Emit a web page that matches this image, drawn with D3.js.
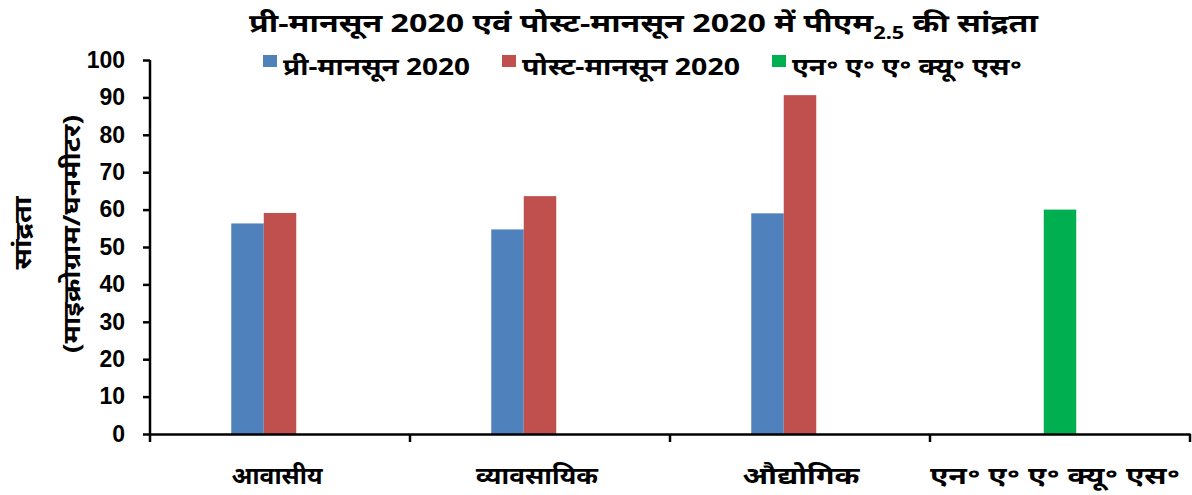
<!DOCTYPE html>
<html><head><meta charset="utf-8">
<script src="https://cdn.jsdelivr.net/npm/d3@7"></script>
<style>
body{margin:0;background:#fff;}
text{font-family:"Liberation Sans",Arial,"Noto Sans",sans-serif;font-weight:bold;fill:#000;}
</style></head>
<body><svg id="c" width="1192" height="495"></svg>
<script>
const categories = ["आवासीय", "व्यावसायिक", "औद्योगिक", "एन॰ ए॰ ए॰ क्यू॰ एस॰"];
const seriesNames = ["प्री-मानसून  2020", "पोस्ट-मानसून  2020", "एन॰ ए॰ ए॰ क्यू॰ एस॰"];
const seriesColors = ["#4f81bd", "#c0504d", "#00b050"];
const preMonsoon = [56.3, 54.7, 59.0, null];
const postMonsoon = [59.1, 63.6, 90.6, null];
const naaqs = [null, null, null, 60];
const yTicks = [0,10,20,30,40,50,60,70,80,90,100];

const svg = d3.select("#c");
const m = {l:150, r:1190, t:60, b:434};
const x = d3.scaleBand().domain(categories).range([m.l, m.r]).paddingInner(0).paddingOuter(0);
const y = d3.scaleLinear().domain([0,100]).range([m.b, m.t]);
const bw = 32.5;
const slot = d3.scaleBand().domain([0,1,2]).range([x.bandwidth()/2 - 1.5*bw, x.bandwidth()/2 + 1.5*bw]);

const bars = [];
categories.forEach((c,i)=>{
  if (preMonsoon[i]!=null) bars.push({c, v:preMonsoon[i], s:0, slot:0});
  if (postMonsoon[i]!=null) bars.push({c, v:postMonsoon[i], s:1, slot:1});
  if (naaqs[i]!=null) bars.push({c, v:naaqs[i], s:2, slot: (preMonsoon[i]==null && postMonsoon[i]==null) ? 1 : 2});
});
svg.append("g").selectAll("rect").data(bars).join("rect")
  .attr("x", d=>x(d.c)+slot(d.slot))
  .attr("width", slot.bandwidth())
  .attr("y", d=>y(d.v))
  .attr("height", d=>y(0)-y(d.v))
  .attr("fill", d=>seriesColors[d.s]);

const devFont = "'Noto Sans','Liberation Sans',sans-serif";

// y axis
const ya = svg.append("g").attr("transform",`translate(${m.l},0)`)
  .call(d3.axisLeft(y).tickValues(yTicks).tickSize(7).tickPadding(18));
ya.select(".domain").attr("stroke","#000").attr("stroke-width",2.5).attr("d",`M0,${m.t}V${m.b}`);
ya.selectAll(".tick line").attr("stroke","#000").attr("stroke-width",2.5);
ya.selectAll(".tick text").style("font-size","23px").style("font-weight","bold").attr("fill","#000")
  .style("font-family","'Liberation Sans',Arial,sans-serif");

// x axis
const xa = svg.append("g").attr("transform",`translate(0,${m.b})`)
  .call(d3.axisBottom(x).tickSize(0).tickPadding(0));
xa.select(".domain").attr("stroke","#000").attr("stroke-width",2.5);
xa.selectAll(".tick text").remove();
const xLabelW = [91, 122, 117, 250];
const xLabelC = [277, 537, 801, 1055];
svg.append("g").selectAll("text").data(categories).join("text")
  .attr("x",(d,i)=>xLabelC[i]).attr("y",484).attr("text-anchor","middle")
  .attr("textLength",(d,i)=>xLabelW[i]).attr("lengthAdjust","spacingAndGlyphs")
  .style("font-size","24px").style("font-family",devFont).text(d=>d);
const bounds = categories.map(c=>x(c)).concat([m.r]);
svg.append("g").selectAll("line").data(bounds).join("line")
  .attr("x1",d=>d).attr("x2",d=>d).attr("y1",m.b).attr("y2",m.b+8)
  .attr("stroke","#000").attr("stroke-width",2.5);

// title: fit between x=249 and x=1038
const t = svg.append("text").attr("x",0).attr("y",32)
  .style("font-size","25px").style("font-family",devFont);
t.append("tspan").text("प्री-मानसून  2020  एवं  पोस्ट-मानसून  2020  में  पीएम");
t.append("tspan").attr("dy",7).style("font-size","17px").text("2.5");
t.append("tspan").attr("dy",-7).text(" की  सांद्रता");
const tw = t.node().getComputedTextLength();
t.attr("transform",`translate(249,0) scale(${789/tw},1)`);

// legend
const legSq = [263, 502, 772];
const legTx = [[283,470],[522,740],[792,1022]];
const lg = svg.append("g").selectAll("g").data(seriesNames).join("g");
lg.append("rect").attr("x",(d,i)=>legSq[i]).attr("y",55).attr("width",14).attr("height",12).attr("fill",(d,i)=>seriesColors[i]);
lg.append("text").attr("x",(d,i)=>legTx[i][0]).attr("y",75).text(d=>d)
  .attr("textLength",(d,i)=>legTx[i][1]-legTx[i][0]).attr("lengthAdjust","spacingAndGlyphs")
  .style("font-size","24px").style("font-family",devFont);

// y label
svg.append("text").attr("transform","translate(31,233) rotate(-90)").attr("text-anchor","middle")
  .attr("textLength",73).attr("lengthAdjust","spacingAndGlyphs")
  .style("font-size","24px").style("font-family",devFont).text("सांद्रता");
svg.append("text").attr("transform","translate(80,234) rotate(-90)").attr("text-anchor","middle")
  .attr("textLength",238).attr("lengthAdjust","spacingAndGlyphs")
  .style("font-size","24px").style("font-family",devFont).text("(माइक्रोग्राम/घनमीटर)");
</script></body></html>
